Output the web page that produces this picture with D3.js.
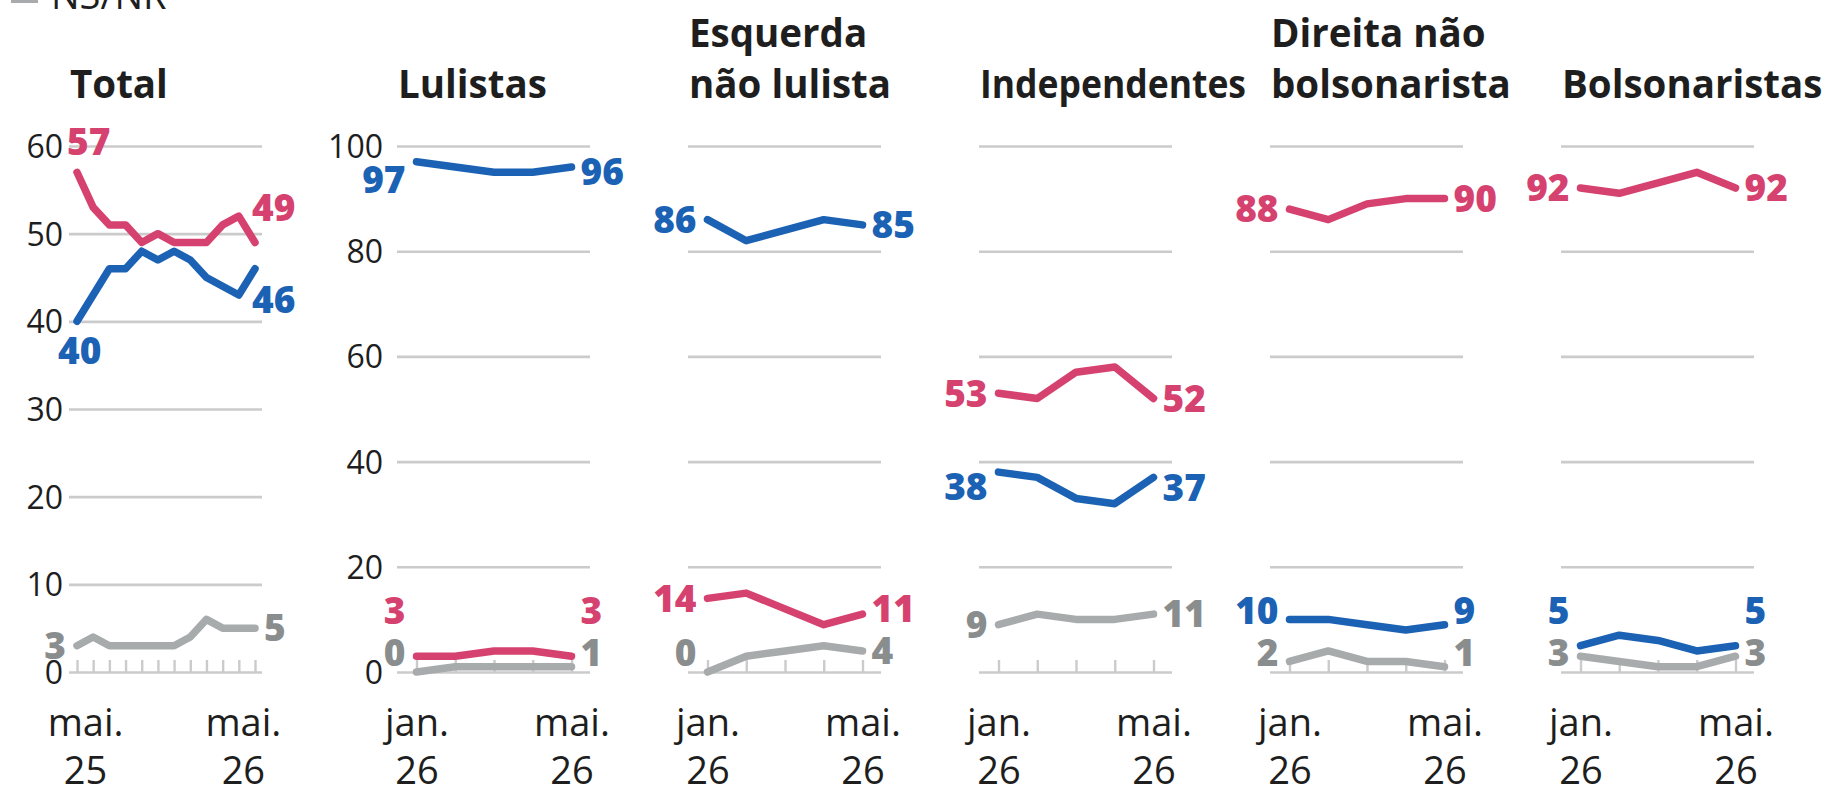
<!DOCTYPE html>
<html>
<head>
<meta charset="utf-8">
<script src="https://cdn.jsdelivr.net/npm/d3@7"></script>
<style>
  body { margin: 0; background: #fff; }
  svg { display: block; font-family: 'Open Sans', 'Noto Sans', sans-serif; }
</style>
</head>
<body>
<div id="chart"></div>
<script>
// ---------------------------------------------------------------------------
// DATA
// ---------------------------------------------------------------------------
const panelTitles = [
  ['Total'],
  ['Lulistas'],
  ['Esquerda', 'não lulista'],
  ['Independentes'],
  ['Direita não', 'bolsonarista'],
  ['Bolsonaristas'],
];

const redValues = [
  [57, 53, 51, 51, 49, 50, 49, 49, 49, 51, 52, 49],
  [3, 3, 4, 4, 3],
  [14, 15, 12, 9, 11],
  [53, 52, 57, 58, 52],
  [88, 86, 89, 90, 90],
  [92, 91, 93, 95, 92],
];

const blueValues = [
  [40, 43, 46, 46, 48, 47, 48, 47, 45, 44, 43, 46],
  [97, 96, 95, 95, 96],
  [86, 82, 84, 86, 85],
  [38, 37, 33, 32, 37],
  [10, 10, 9, 8, 9],
  [5, 7, 6, 4, 5],
];

const nsnrValues = [
  [3, 4, 3, 3, 3, 3, 3, 4, 6, 5, 5, 5],
  [0, 1, 1, 1, 1],
  [0, 3, 4, 5, 4],
  [9, 11, 10, 10, 11],
  [2, 4, 2, 2, 1],
  [3, 2, 1, 1, 3],
];

const yMaxValues = [60, 100, 100, 100, 100, 100];
const yTickStep = [10, 20, 20, 20, 20, 20];
const showYLabels = [true, true, false, false, false, false];

// x tick labels: [position in survey index, line 1, line 2]
const xTickLabels = [
  [[0.5, 'mai.', '25'], [10.25, 'mai.', '26']],
  [[0, 'jan.', '26'], [4, 'mai.', '26']],
  [[0, 'jan.', '26'], [4, 'mai.', '26']],
  [[0, 'jan.', '26'], [4, 'mai.', '26']],
  [[0, 'jan.', '26'], [4, 'mai.', '26']],
  [[0, 'jan.', '26'], [4, 'mai.', '26']],
];

const legendLabel = 'NS/NR';

// ---------------------------------------------------------------------------
// LAYOUT / STYLE
// ---------------------------------------------------------------------------
const colors = {
  red: '#d6426f',
  blue: '#1b62b4',
  nsnr: '#a8abac',
  nsnrText: '#8a8d8e',
  grid: '#cbcbcb',
  text: '#1e1e1e',
};

const svgWidth = 1822;
const svgHeight = 794;
const panelLefts = [69, 397, 688, 979, 1270, 1561];
const panelWidth = 193;
const plotTop = 146;
const plotBottom = 672;
const yLabelGap = [6, 14, 0, 0, 0, 0];
const titleMaxWidth = 266;

const labelFloor = 653;   // lowest allowed centre of an end label
const labelGap = 42;      // vertical spacing between stacked end labels

// hand placements where the automatic stacking isn't enough
const labelOverrides = {
  'Total|red|start': {anchor: 'start', dx: -10, dy: -31},
  'Total|blue|start': {anchor: 'start', dx: -19, dy: 29},
  'Total|red|end': {anchor: 'start', dx: -3, dy: -35},
  'Total|blue|end': {anchor: 'start', dx: -3, dy: 31},
  'Lulistas|blue|start': {dy: 18},
  'Lulistas|blue|end': {dy: 5},
  'Independentes|blue|start': {dy: 15},
  'Independentes|blue|end': {dy: 10},
};

const svg = d3.select('#chart').append('svg')
  .attr('width', svgWidth)
  .attr('height', svgHeight);

svg.append('rect')
  .attr('width', svgWidth)
  .attr('height', svgHeight)
  .attr('fill', '#fff');

// ---------------------------------------------------------------------------
// LEGEND (mostly cropped at the top of the picture)
// ---------------------------------------------------------------------------
const legend = svg.append('g').attr('class', 'legend');
legend.append('rect')
  .attr('x', 11).attr('y', -20)
  .attr('width', 27).attr('height', 23)
  .attr('fill', colors.nsnr);
legend.append('text')
  .attr('x', 51).attr('y', 9)
  .attr('font-size', 38)
  .attr('fill', colors.text)
  .text(legendLabel);

// ---------------------------------------------------------------------------
// PANELS
// ---------------------------------------------------------------------------
panelTitles.forEach((title, i) => {
  const x0 = panelLefts[i];
  const n = redValues[i].length;
  const pad = n > 5 ? [8, 7] : [19.5, 18.5];
  const name = title[0];

  const g = svg.append('g').attr('class', 'panel');

  const x = d3.scaleLinear()
    .domain([0, n - 1])
    .range([x0 + pad[0], x0 + panelWidth - pad[1]]);

  const y = d3.scaleLinear()
    .domain([0, yMaxValues[i]])
    .range([plotBottom, plotTop]);

  // title
  const titleText = g.append('text')
    .attr('font-size', 38.5)
    .attr('font-weight', 700)
    .attr('fill', colors.text);
  title.forEach((line, k) => {
    titleText.append('tspan')
      .attr('x', x0 + 1)
      .attr('y', 98 - (title.length - 1 - k) * 51)
      .text(line);
  });
  // shrink a title that would run into the next panel's title
  titleText.selectAll('tspan').each(function() {
    const w = this.getComputedTextLength();
    if (w > titleMaxWidth) {
      d3.select(this)
        .attr('textLength', titleMaxWidth)
        .attr('lengthAdjust', 'spacingAndGlyphs');
    }
  });

  // y grid + labels
  const yAxisG = g.append('g')
    .attr('transform', `translate(${x0},0)`);
  const yAxis = d3.axisLeft(y)
    .tickValues(d3.range(0, yMaxValues[i] + 1, yTickStep[i]))
    .tickSize(-panelWidth)
    .tickPadding(yLabelGap[i])
    .tickFormat(showYLabels[i] ? d3.format('d') : () => '');
  yAxisG.call(yAxis);
  yAxisG.attr('font-family', null).attr('font-size', null);
  yAxisG.select('.domain').remove();
  yAxisG.selectAll('.tick line')
    .attr('stroke', colors.grid)
    .attr('stroke-width', 2.6);
  yAxisG.selectAll('.tick text')
    .attr('font-size', 32)
    .attr('fill', colors.text)
    .attr('dy', '0.36em');

  // survey ticks on the baseline
  const tickAxisG = g.append('g')
    .attr('transform', `translate(0,${plotBottom})`);
  tickAxisG.call(d3.axisBottom(x)
    .tickValues(d3.range(n))
    .tickSize(-12)
    .tickFormat(() => ''));
  tickAxisG.select('.domain').remove();
  tickAxisG.selectAll('.tick line')
    .attr('stroke', colors.grid)
    .attr('stroke-width', 2.4);

  // x labels (two lines)
  const xLabelG = g.append('g')
    .attr('transform', `translate(0,${plotBottom})`);
  xLabelG.call(d3.axisBottom(x)
    .tickValues(xTickLabels[i].map(d => d[0]))
    .tickSize(0)
    .tickFormat(() => ''));
  xLabelG.attr('font-family', null).attr('font-size', null);
  xLabelG.select('.domain').remove();
  xLabelG.selectAll('.tick line').remove();
  xLabelG.selectAll('.tick text')
    .attr('font-size', 38)
    .attr('fill', colors.text)
    .attr('y', null)
    .attr('dy', null)
    .each(function(v) {
      const lab = xTickLabels[i].find(d => d[0] === v);
      const t = d3.select(this);
      t.append('tspan').attr('x', 0).attr('y', 64).text(lab[1]);
      t.append('tspan').attr('x', 0).attr('y', 112).text(lab[2]);
    });

  // lines
  const series = [
    {key: 'nsnr', values: nsnrValues[i], color: colors.nsnr, textColor: colors.nsnrText},
    {key: 'blue', values: blueValues[i], color: colors.blue, textColor: colors.blue},
    {key: 'red', values: redValues[i], color: colors.red, textColor: colors.red},
  ];

  const line = d3.line()
    .x((d, k) => x(k))
    .y(d => y(d));

  g.selectAll('.series')
    .data(series)
    .enter()
    .append('path')
      .attr('class', 'series')
      .attr('d', d => line(d.values))
      .attr('fill', 'none')
      .attr('stroke', d => d.color)
      .attr('stroke-width', 7.5)
      .attr('stroke-linecap', 'round')
      .attr('stroke-linejoin', 'round');

  // end labels
  ['start', 'end'].forEach(side => {
    const idx = side === 'start' ? 0 : n - 1;
    const items = series.map(s => ({
      ...s,
      side,
      value: s.values[idx],
      px: x(idx),
      py: y(s.values[idx]),
    }));

    // stack from the bottom up so labels don't collide
    let limit = labelFloor;
    items.slice().sort((a, b) => b.py - a.py).forEach(d => {
      d.ly = Math.min(d.py, limit);
      limit = d.ly - labelGap;
    });

    items.forEach(d => {
      const o = labelOverrides[`${name}|${d.key}|${side}`];
      d.anchor = side === 'start' ? 'end' : 'start';
      d.lx = side === 'start' ? d.px - 11 : d.px + 9;
      if (o) {
        d.ly = d.py + (o.dy || 0);
        if (o.anchor) {
          d.anchor = o.anchor;
          d.lx = d.px + o.dx;
        }
      }
    });

    g.selectAll(`.label-${side}`)
      .data(items)
      .enter()
      .append('text')
        .attr('class', `label-${side}`)
        .attr('x', d => d.lx)
        .attr('y', d => d.ly)
        .attr('dy', '0.36em')
        .attr('text-anchor', d => d.anchor)
        .attr('font-size', 37)
        .attr('font-weight', 800)
        .attr('fill', d => d.textColor)
        .text(d => d.value);
  });
});
</script>
</body>
</html>
